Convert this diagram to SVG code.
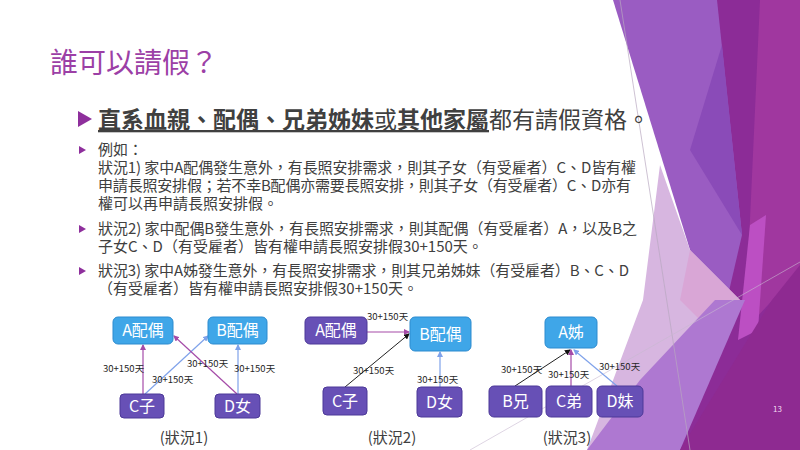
<svg xmlns="http://www.w3.org/2000/svg" width="800" height="450" viewBox="0 0 800 450">
<defs>
<style>
.t{font-family:"Noto Sans CJK TC","Noto Sans",sans-serif;}
.body{font-size:15px;fill:#404040;}
.lbl{font-size:9.5px;fill:#262626;}
.nt{font-size:16px;fill:#ffffff;text-anchor:middle;}
.cap{font-size:15px;fill:#404040;text-anchor:middle;}
.blue{fill:#3FA6E8;stroke:#2C8BCF;stroke-width:1;}
.purp{fill:#6750B6;stroke:#4C3898;stroke-width:1;}
.cp{stroke:#A54BA8;stroke-width:1.2;fill:none;}
.cb{stroke:#7FA2EA;stroke-width:1.2;fill:none;}
.ck{stroke:#222222;stroke-width:1;fill:none;}
</style>
<marker id="ap" markerWidth="6" markerHeight="6" refX="5" refY="3" orient="auto" markerUnits="userSpaceOnUse"><path d="M0,0 L6,3 L0,6 Z" fill="#A54BA8"/></marker>
<marker id="ab" markerWidth="6" markerHeight="6" refX="5" refY="3" orient="auto" markerUnits="userSpaceOnUse"><path d="M0,0 L6,3 L0,6 Z" fill="#7FA2EA"/></marker>
<marker id="ak" markerWidth="6" markerHeight="6" refX="5" refY="3" orient="auto" markerUnits="userSpaceOnUse"><path d="M0,0 L6,3 L0,6 Z" fill="#111111"/></marker>
</defs>
<rect width="800" height="450" fill="#ffffff"/>

<!-- decorative facets -->
<g id="decor">
<polygon points="715,0 800,0 800,450 680,450" fill="#8C2C97"/>
<polygon points="760,0 800,0 800,270 745,330" fill="#A0379F"/>
<polygon points="613,0 717,0 742,235 720,330 690,250" fill="#9A5CC2"/>
<polygon points="722,45 742,235 690,150" fill="#8A4BB8"/>
<polygon points="750,225 766,215 758,330 738,340" fill="#BC4FC3"/>
<polygon points="660,165 690,250 740,300 700,360 620,450 587,450 643,300" fill="#D7B6E0"/>
<polygon points="690,250 740,300 710,330 680,300" fill="#D9A6D6"/>
<polygon points="587,450 680,450 745,300 715,300 640,380" fill="#AE78D1"/>
<polygon points="680,450 800,450 800,265 772,300" fill="#8E2A91"/>
<line x1="620" y1="0" x2="690" y2="450" stroke="#b8a8c0" stroke-width="0.7"/>
<line x1="470" y1="450" x2="800" y2="262" stroke="#c8b8d0" stroke-width="0.6"/>
<text class="t" x="773" y="412" font-size="8" fill="#F2DCF2">13</text>
</g>

<text class="t" x="50" y="73" font-size="28" fill="#9C3FA6">誰可以請假？</text>

<polygon points="78,111 92,119 78,127" fill="#8E2F9C"/>
<text class="t" x="98" y="128" font-size="23" fill="#404040"><tspan text-decoration="underline"><tspan font-weight="bold">直系血親、配偶、兄弟姊妹</tspan>或<tspan font-weight="bold">其他家屬</tspan></tspan>都有請假資格。</text>

<polygon points="79,146 86,150 79,154" fill="#8E2F9C"/>
<text class="t body" x="98" y="155">例如：</text>
<text class="t body" x="98" y="173" textLength="538" lengthAdjust="spacing">狀況1) 家中A配偶發生意外，有長照安排需求，則其子女（有受雇者）C、D皆有權</text>
<text class="t body" x="98" y="191" textLength="533" lengthAdjust="spacing">申請長照安排假；若不幸B配偶亦需要長照安排，則其子女（有受雇者）C、D亦有</text>
<text class="t body" x="98" y="209">權可以再申請長照安排假。</text>

<polygon points="79,225 86,229 79,233" fill="#8E2F9C"/>
<text class="t body" x="98" y="234" textLength="539" lengthAdjust="spacing">狀況2) 家中配偶B發生意外，有長照安排需求，則其配偶（有受雇者）A，以及B之</text>
<text class="t body" x="98" y="252">子女C、D（有受雇者）皆有權申請長照安排假30+150天。</text>

<polygon points="79,267 86,271 79,275" fill="#8E2F9C"/>
<text class="t body" x="98" y="276" textLength="531" lengthAdjust="spacing">狀況3) 家中A姊發生意外，有長照安排需求，則其兄弟姊妹（有受雇者）B、C、D</text>
<text class="t body" x="98" y="294">（有受雇者）皆有權申請長照安排假30+150天。</text>

<!-- connectors -->
<g id="connectors">
<line class="cp" x1="143" y1="394" x2="143" y2="345" marker-end="url(#ap)"/>
<line class="cb" x1="145" y1="394" x2="208" y2="336" marker-end="url(#ab)"/>
<line class="cp" x1="237" y1="394" x2="174" y2="336" marker-end="url(#ap)"/>
<line class="cb" x1="238" y1="394" x2="238" y2="345" marker-end="url(#ab)"/>
<line class="cp" x1="367" y1="332" x2="409" y2="332" marker-end="url(#ap)"/>
<line class="ck" x1="345" y1="387" x2="409" y2="334" marker-end="url(#ak)"/>
<line class="cb" x1="440" y1="387" x2="440" y2="352" marker-end="url(#ab)"/>
<line class="ck" x1="515" y1="386" x2="570" y2="350" marker-end="url(#ak)"/>
<line class="cp" x1="571" y1="386" x2="571" y2="350" marker-end="url(#ap)"/>
<line class="cb" x1="617" y1="386" x2="574" y2="350" marker-end="url(#ab)"/>
<text class="t lbl" x="103" y="372">30+150天</text>
<text class="t lbl" x="152" y="383">30+150天</text>
<text class="t lbl" x="187" y="367">30+150天</text>
<text class="t lbl" x="234" y="372">30+150天</text>
<text class="t lbl" x="367" y="320">30+150天</text>
<text class="t lbl" x="353" y="374">30+150天</text>
<text class="t lbl" x="417" y="383">30+150天</text>
<text class="t lbl" x="501" y="373">30+150天</text>
<text class="t lbl" x="548" y="378">30+150天</text>
<text class="t lbl" x="599" y="370">30+150天</text>
</g>

<!-- diagram 1 -->
<g id="d1-A"><rect class="blue" x="113" y="317" width="60" height="27" rx="5"/><text class="t nt" x="143" y="336">A配偶</text></g>
<g id="d1-B"><rect class="blue" x="208" y="317" width="59" height="27" rx="5"/><text class="t nt" x="237.5" y="336">B配偶</text></g>
<g id="d1-C"><rect class="purp" x="120" y="394" width="44" height="24" rx="4"/><text class="t nt" x="142" y="412">C子</text></g>
<g id="d1-D"><rect class="purp" x="215" y="394" width="45" height="24" rx="4"/><text class="t nt" x="237.5" y="412">D女</text></g>
<text class="t cap" x="184" y="443">(狀況1)</text>

<!-- diagram 2 -->
<g id="d2-A"><rect class="purp" x="305" y="317" width="62" height="27" rx="5"/><text class="t nt" x="336" y="336">A配偶</text></g>
<g id="d2-B"><rect class="blue" x="410" y="317" width="61" height="34" rx="5"/><text class="t nt" x="440.5" y="340">B配偶</text></g>
<g id="d2-C"><rect class="purp" x="323" y="387" width="44" height="28" rx="4"/><text class="t nt" x="345" y="407">C子</text></g>
<g id="d2-D"><rect class="purp" x="417" y="387" width="45" height="30" rx="4"/><text class="t nt" x="439.5" y="408">D女</text></g>
<text class="t cap" x="392" y="443">(狀況2)</text>

<!-- diagram 3 -->
<g id="d3-A"><rect class="blue" x="545" y="317" width="52" height="31" rx="5"/><text class="t nt" x="571" y="338">A姊</text></g>
<g id="d3-B"><rect class="purp" x="489" y="386" width="53" height="31" rx="5"/><text class="t nt" x="515.5" y="407">B兄</text></g>
<g id="d3-C"><rect class="purp" x="546" y="386" width="46" height="31" rx="5"/><text class="t nt" x="569" y="407">C弟</text></g>
<g id="d3-D"><rect class="purp" x="597" y="386" width="46" height="31" rx="5"/><text class="t nt" x="620" y="407">D妹</text></g>
<text class="t cap" x="567" y="443">(狀況3)</text>
</svg>
